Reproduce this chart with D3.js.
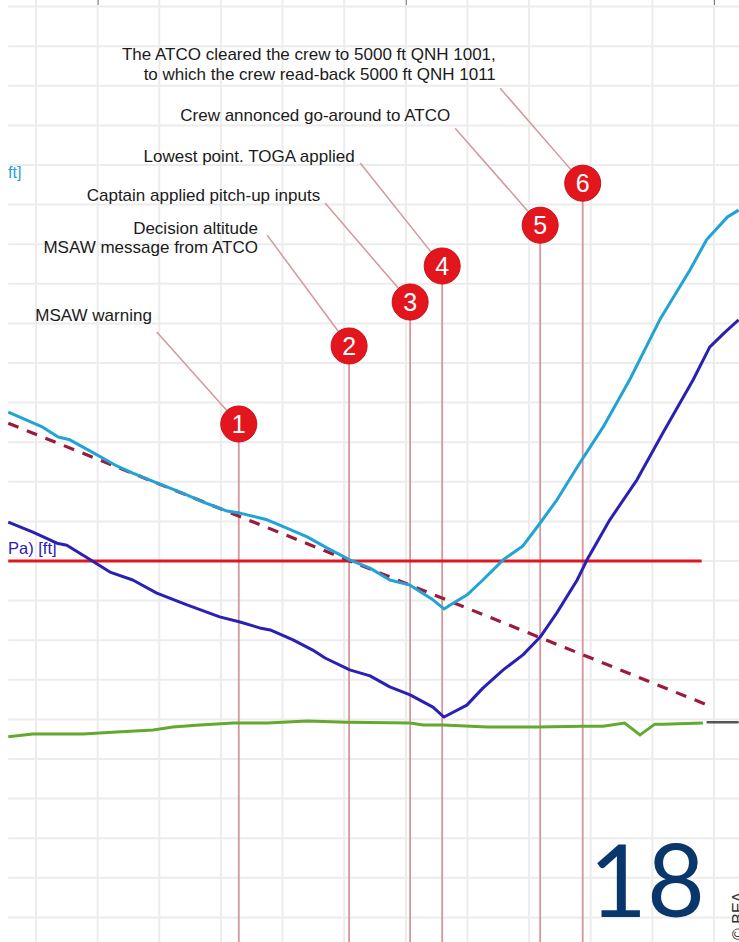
<!DOCTYPE html>
<html>
<head>
<meta charset="utf-8">
<script src="https://cdn.jsdelivr.net/npm/d3@7"></script>
<style>
  html, body { margin: 0; padding: 0; background: #fff; }
  svg { display: block; font-family: "Liberation Sans", Arial, sans-serif; }
</style>
</head>
<body>
<script>
const svgWidth = 739
const svgHeight = 942

// time in seconds, altitudes in ft
const altQnh = [
  [15.5, 1376], [21.1, 1338], [23.6, 1313], [25.5, 1306], [29.9, 1268], [33.1, 1240],
  [35.7, 1222], [39.6, 1197], [43.4, 1174], [47.1, 1149], [51.0, 1126], [53.1, 1121],
  [57.5, 1104], [60.7, 1083], [64.0, 1061], [67.2, 1033], [70.9, 1003], [74.2, 982],
  [77.4, 952], [80.7, 939], [84.4, 902], [86.2, 879], [87.2, 889], [89.9, 914],
  [92.5, 952], [95.8, 1003], [99.0, 1038], [101.8, 1096], [104.5, 1154], [108.2, 1247],
  [112.0, 1338], [116.3, 1457], [121.2, 1609], [126.1, 1735], [128.8, 1811],
  [132.2, 1869], [134.0, 1886]
]

const altStd = [
  [15.5, 1098], [19.5, 1073], [23.4, 1045], [25.0, 1040], [28.3, 1008], [32.0, 972],
  [35.7, 952], [39.6, 919], [44.5, 889], [49.8, 859], [53.1, 846], [56.3, 831],
  [58.0, 826], [61.7, 801], [64.9, 775], [66.9, 755], [70.9, 725], [74.2, 710],
  [77.4, 682], [80.7, 662], [84.4, 631], [86.2, 606], [89.9, 636], [92.5, 679],
  [95.8, 725], [99.0, 763], [101.8, 808], [104.5, 869], [107.8, 952], [109.4, 1003],
  [113.1, 1104], [117.5, 1205], [121.7, 1323], [126.6, 1457], [129.3, 1540],
  [131.8, 1578], [134.0, 1609]
]

const terrain = [
  [15.5, 556], [19.5, 563], [27.6, 563], [33.1, 568], [39.0, 573], [42.2, 581],
  [46.6, 586], [52.0, 591], [57.5, 591], [64.0, 596], [70.4, 593], [80.7, 591],
  [82.8, 586], [86.0, 586], [93.2, 581], [101.3, 581], [108.7, 583], [112.0, 583],
  [115.5, 591], [118.0, 561], [120.4, 588], [121.7, 588], [128.2, 591]
]
const terrainEnd = [[128.8, 593], [134.0, 593]]

const glidePath = [[15.5, 1348], [129.3, 634]]
const decisionAltitude = 1000
const decisionSpan = [15.5, 128.0]

const eventNumbers = [1, 2, 3, 4, 5, 6]
const eventTimes = [52.9, 70.8, 80.7, 85.9, 101.8, 108.7]
const eventLabels = [
  ["MSAW warning"],
  ["Decision altitude", "MSAW message from ATCO"],
  ["Captain applied pitch-up inputs"],
  ["Lowest point. TOGA applied"],
  ["Crew annonced go-around to ATCO"],
  ["The ATCO cleared the crew to 5000 ft QNH 1001,", "to which the crew read-back 5000 ft QNH 1011"]
]

const topTicks = [30, 80, 130]

// annotation layout (ft / s)
const markerAlt = [1346, 1543, 1654, 1745, 1848, 1954]
const leaderStart = [[39.6, 1578], [57.5, 1823], [66.9, 1904], [72.6, 2005], [88.0, 2093], [95.3, 2194]]
const labelEnd = [[38.8, 1606], [56.0, 1826], [66.1, 1909], [71.7, 2007], [87.2, 2111], [94.6, 2265]]

const colorQnh = "#22a3d6"
const colorStd = "#2b20b4"
const colorTerrain = "#63a92f"
const colorRed = "#e3161e"
const colorGlide = "#9b1b3d"
const colorEvent = "#d3979c"
const colorGrid = "#ececec"

const svg = d3.select("body").append("svg")
    .attr("width", svgWidth)
    .attr("height", svgHeight)

const x = d3.scaleLinear().domain([20, 130]).range([36, 714])
const y = d3.scaleLinear().domain([1000, 2000]).range([561, 165])

// grid
const gridG = svg.append("g")
gridG.selectAll("line.v")
    .data(d3.range(20, 131, 10))
    .join("line")
    .attr("x1", d => x(d)).attr("x2", d => x(d))
    .attr("y1", 0).attr("y2", svgHeight)
    .attr("stroke", colorGrid).attr("stroke-width", 2)
gridG.selectAll("line.h")
    .data(d3.range(0, 2500, 100).filter(d => y(d) > 0 && y(d) < svgHeight))
    .join("line")
    .attr("x1", x(15.5)).attr("x2", svgWidth)
    .attr("y1", d => y(d)).attr("y2", d => y(d))
    .attr("stroke", colorGrid).attr("stroke-width", 2)

// top ticks
svg.append("g")
    .attr("transform", "translate(0,-1)")
    .call(d3.axisBottom(x).tickValues(topTicks).tickSize(6).tickFormat(""))
    .call(g => g.select(".domain").remove())
    .call(g => g.selectAll("line").attr("stroke", "#777"))

// axis label fragments
svg.append("text").attr("x", 8).attr("y", y(1968))
    .attr("fill", colorQnh).attr("font-size", 16).text("ft]")
svg.append("text").attr("x", 8).attr("y", y(1018))
    .attr("fill", colorStd).attr("font-size", 16.5).text("Pa) [ft]")

const line = d3.line().x(d => x(d[0])).y(d => y(d[1]))

// event lines
svg.append("g").selectAll("line")
    .data(eventTimes)
    .join("line")
    .attr("x1", d => x(d)).attr("x2", d => x(d))
    .attr("y1", (d, i) => y(markerAlt[i])).attr("y2", svgHeight)
    .attr("stroke", colorEvent).attr("stroke-width", 1.8)

// decision altitude
svg.append("line")
    .attr("x1", x(decisionSpan[0])).attr("x2", x(decisionSpan[1]))
    .attr("y1", y(decisionAltitude)).attr("y2", y(decisionAltitude))
    .attr("stroke", colorRed).attr("stroke-width", 3)

svg.append("path").attr("d", line(glidePath))
    .attr("fill", "none").attr("stroke", colorGlide)
    .attr("stroke-width", 3.2).attr("stroke-dasharray", "11,9")

svg.append("path").attr("d", line(terrain))
    .attr("fill", "none").attr("stroke", colorTerrain).attr("stroke-width", 3)
svg.append("path").attr("d", line(terrainEnd))
    .attr("fill", "none").attr("stroke", "#555").attr("stroke-width", 2.5)

svg.append("path").attr("d", line(altStd))
    .attr("fill", "none").attr("stroke", colorStd).attr("stroke-width", 3)
    .attr("stroke-linejoin", "round")
svg.append("path").attr("d", line(altQnh))
    .attr("fill", "none").attr("stroke", colorQnh).attr("stroke-width", 3)
    .attr("stroke-linejoin", "round")

// markers, leaders and labels
const r = 18
const evG = svg.append("g").selectAll("g")
    .data(eventNumbers)
    .join("g")

evG.append("line")
    .each(function(d, i) {
        const cx = x(eventTimes[i]), cy = y(markerAlt[i])
        const sx = x(leaderStart[i][0]), sy = y(leaderStart[i][1])
        const len = Math.hypot(cx - sx, cy - sy)
        d3.select(this)
            .attr("x1", sx).attr("y1", sy)
            .attr("x2", cx - (cx - sx) / len * r).attr("y2", cy - (cy - sy) / len * r)
    })
    .attr("stroke", colorEvent).attr("stroke-width", 1.5)

evG.append("circle")
    .attr("cx", (d, i) => x(eventTimes[i]))
    .attr("cy", (d, i) => y(markerAlt[i]))
    .attr("r", r)
    .attr("fill", colorRed)
    .attr("stroke", "#c81018").attr("stroke-width", 1)

evG.append("text")
    .attr("x", (d, i) => x(eventTimes[i]))
    .attr("y", (d, i) => y(markerAlt[i]) + 9)
    .attr("text-anchor", "middle")
    .attr("fill", "#fff").attr("font-size", 25)
    .text(d => d)

evG.append("text")
    .attr("text-anchor", "end")
    .attr("font-size", 17)
    .attr("fill", "#1a1a1a")
    .each(function(d, i) {
        const t = d3.select(this)
        eventLabels[i].forEach((s, k) => {
            t.append("tspan")
                .attr("x", x(labelEnd[i][0]))
                .attr("y", y(labelEnd[i][1]) + k * 19.5)
                .text(s)
        })
    })

// page number and credit
svg.append("text")
    .attr("x", 589).attr("y", 917)
    .attr("font-family", "Lato, sans-serif")
    .attr("font-size", 100)
    .attr("fill", "#0a376b")
    .text("18")

svg.append("text")
    .attr("transform", "translate(744,940) rotate(-90)")
    .attr("font-size", 16)
    .attr("fill", "#333")
    .text("© BEA")
</script>
</body>
</html>
